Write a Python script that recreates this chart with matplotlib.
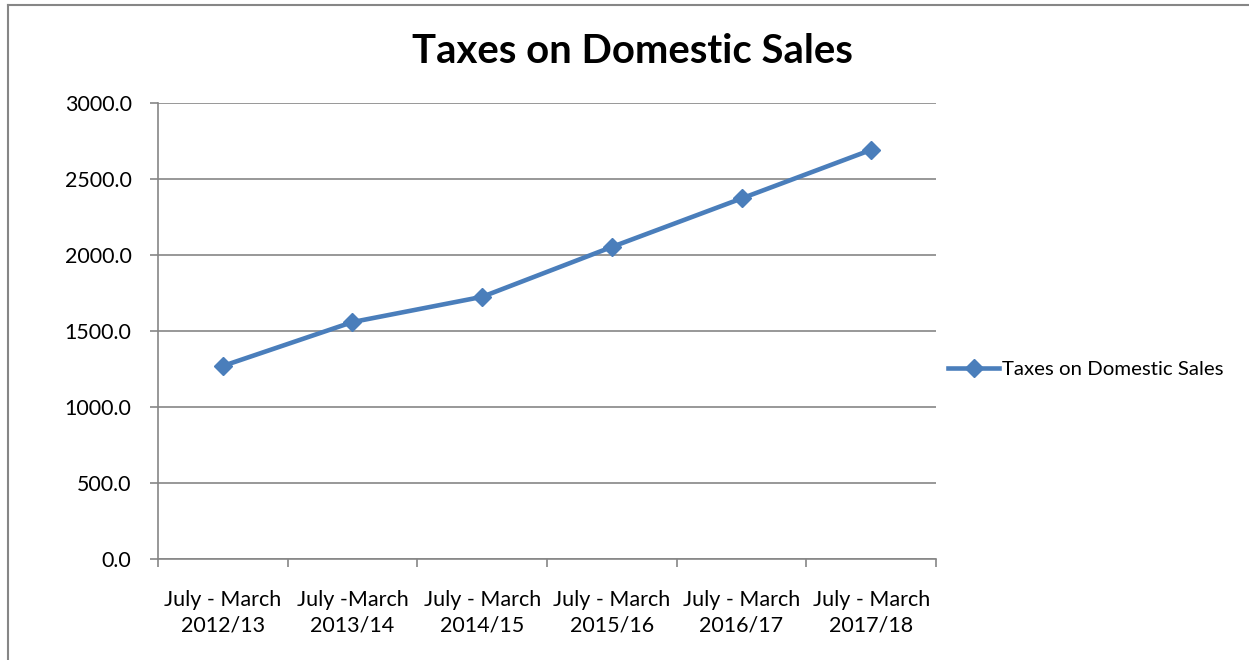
import numpy as np
import matplotlib.pyplot as plt
from matplotlib.lines import Line2D

# values per period
periods = ["July - March\n2012/13", "July -March\n2013/14", "July - March\n2014/15",
           "July - March\n2015/16", "July - March\n2016/17", "July - March\n2017/18"]
taxes = [1270, 1559, 1725, 2053, 2372, 2692]
yticks = [0, 500, 1000, 1500, 2000, 2500, 3000]

plt.rcParams['font.family'] = ['Lato', 'DejaVu Sans']

fig = plt.figure(figsize=(12.49, 6.6), dpi=100)
ax = fig.add_axes([0.1265, 0.153, 0.6229, 0.6909])

grid_col = '#868686'
line_col = '#4a7ebb'

x = np.arange(len(periods))
ax.plot(x, taxes, color=line_col, lw=3.3, marker='D', markersize=9.5,
        label='Taxes on Domestic Sales', zorder=3)

ax.set_xlim(-0.5, len(periods) - 0.5)
ax.set_ylim(0, 3000)
ax.set_yticks(yticks)
ax.set_yticklabels(['{:.1f}'.format(v) for v in yticks])
ax.yaxis.grid(True, color=grid_col, lw=1.2)
ax.set_axisbelow(True)

ax.set_xticks(x)
ax.set_xticklabels(periods, linespacing=1.4)
ax.set_xticks(np.arange(-0.5, len(periods)), minor=True)
ax.tick_params(axis='x', which='major', length=0, pad=22, labelsize=15.5)
ax.tick_params(axis='x', which='minor', length=6, color=grid_col, width=1.2)
ax.tick_params(axis='y', length=6, color=grid_col, width=1.2, pad=13, labelsize=15.4)

for s in ['top', 'right']:
    ax.spines[s].set_visible(False)
for s in ['left', 'bottom']:
    ax.spines[s].set_color(grid_col)
    ax.spines[s].set_linewidth(1.2)

fig.text(0.506, 0.922, 'Taxes on Domestic Sales', ha='center', va='center',
         fontsize=28.8, fontweight='bold')

leg = ax.legend(loc='center left', bbox_to_anchor=(0.992, 0.415), frameon=False,
                fontsize=14.7, handlelength=2.5, handletextpad=0.15)

# chart border (left and top edges)
fig.add_artist(Line2D([8 / 1249, 8 / 1249], [0, 1 - 5 / 660], color=grid_col, lw=1.5,
                      transform=fig.transFigure))
fig.add_artist(Line2D([8 / 1249, 1], [1 - 5 / 660, 1 - 5 / 660], color=grid_col, lw=1.5,
                      transform=fig.transFigure))

fig.savefig('out.png', dpi=100)
